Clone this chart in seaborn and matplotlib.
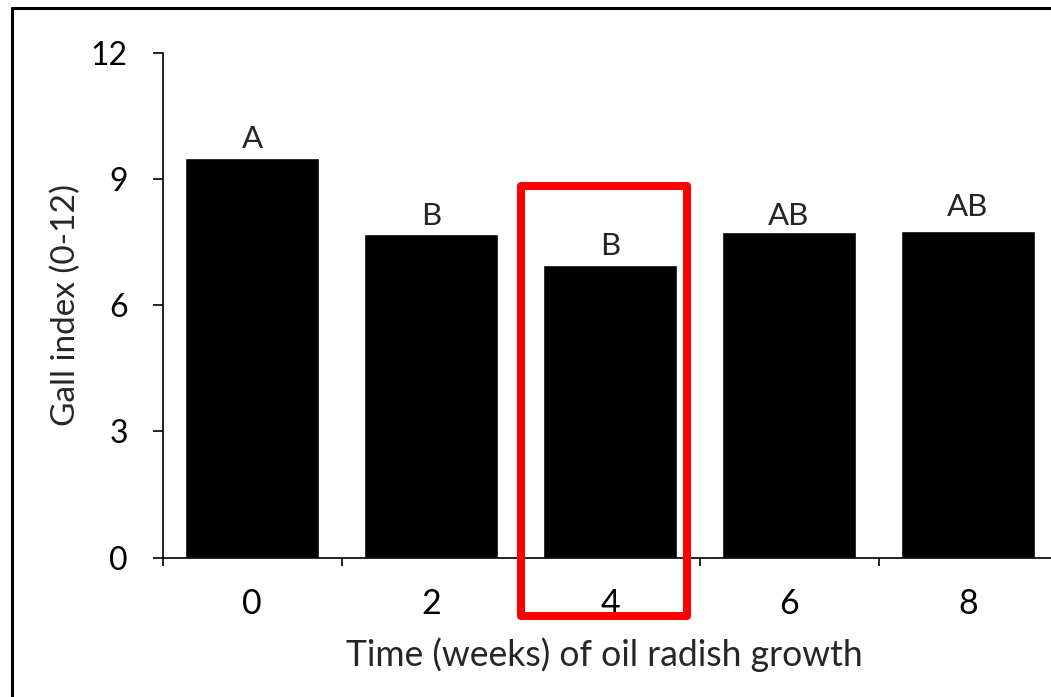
import numpy as np
import pandas as pd
import matplotlib
matplotlib.use("Agg")
import matplotlib.pyplot as plt
import seaborn as sns
from matplotlib.patches import Rectangle
from matplotlib.lines import Line2D

# data
weeks = ["0", "2", "4", "6", "8"]
gall_index = [9.50, 7.68, 6.95, 7.74, 7.76]
letters = ["A", "B", "B", "AB", "AB"]
y_ticks = [0, 3, 6, 9, 12]

# gap (points) between bar top and letter, as placed in the original
letter_gap = [7, 7, 7, 5, 11]

df = pd.DataFrame({"week": weeks, "gall": gall_index})

sns.set_style("white")
plt.rcParams["font.family"] = ["Lato", "DejaVu Sans"]

W, H = 1051, 697
fig = plt.figure(figsize=(W / 100, H / 100), dpi=100)
ax = fig.add_axes([162.5 / W, 139.5 / H, 895 / W, 504.8 / H])

sns.barplot(data=df, x="week", y="gall", order=weeks, color="black",
            saturation=1, width=0.75, ax=ax)

ax.set_xlim(-0.5, len(weeks) - 0.5)
ax.set_ylim(0, 12)
ax.set_yticks(y_ticks)

# spines / ticks in the excel style
for s in ["top", "right"]:
    ax.spines[s].set_visible(False)
for s in ["left", "bottom"]:
    ax.spines[s].set_linewidth(1.2)
    ax.spines[s].set_color("black")
    ax.spines[s].set_clip_on(False)

ax.tick_params(axis="y", direction="out", length=7, width=1.2, pad=18,
               labelsize=23, colors="black", left=True)
ax.tick_params(axis="x", which="major", length=0, pad=22, labelsize=24.5,
               colors="black")
ax.set_xticks(np.arange(len(weeks) + 1) - 0.5, minor=True)
ax.tick_params(axis="x", which="minor", direction="out", length=6,
               width=1.2, bottom=True, colors="black")

# letters above the bars
for i, (v, lab, g) in enumerate(zip(gall_index, letters, letter_gap)):
    ax.annotate(lab, (i, v), xytext=(0, g), textcoords="offset points",
                ha="center", va="baseline", fontsize=22.5)

ax.set_xlabel("Time (weeks) of oil radish growth", fontsize=25.6)
ax.set_ylabel("Gall index (0-12)", fontsize=24)
ax.xaxis.label.set_va("baseline")
ax.xaxis.set_label_coords(0.494, -0.215)
ax.yaxis.set_label_coords(-0.091, 0.5)

# red highlight box around week 4
box = Rectangle((1.5, -1.39), 0.928, 8.83 + 1.39, fill=False,
                edgecolor="#ff0000", linewidth=5.8, joinstyle="round",
                clip_on=False, zorder=5)
ax.add_patch(box)

# frame of the original figure (left and top edges only visible)
fig.add_artist(Line2D([11.5 / W, 11.5 / W], [0, (H - 7.5) / H],
                      transform=fig.transFigure, color="black", lw=2.2))
fig.add_artist(Line2D([11.5 / W, 1], [(H - 7.5) / H, (H - 7.5) / H],
                      transform=fig.transFigure, color="black", lw=2.2))

fig.savefig("out.png", dpi=100)
